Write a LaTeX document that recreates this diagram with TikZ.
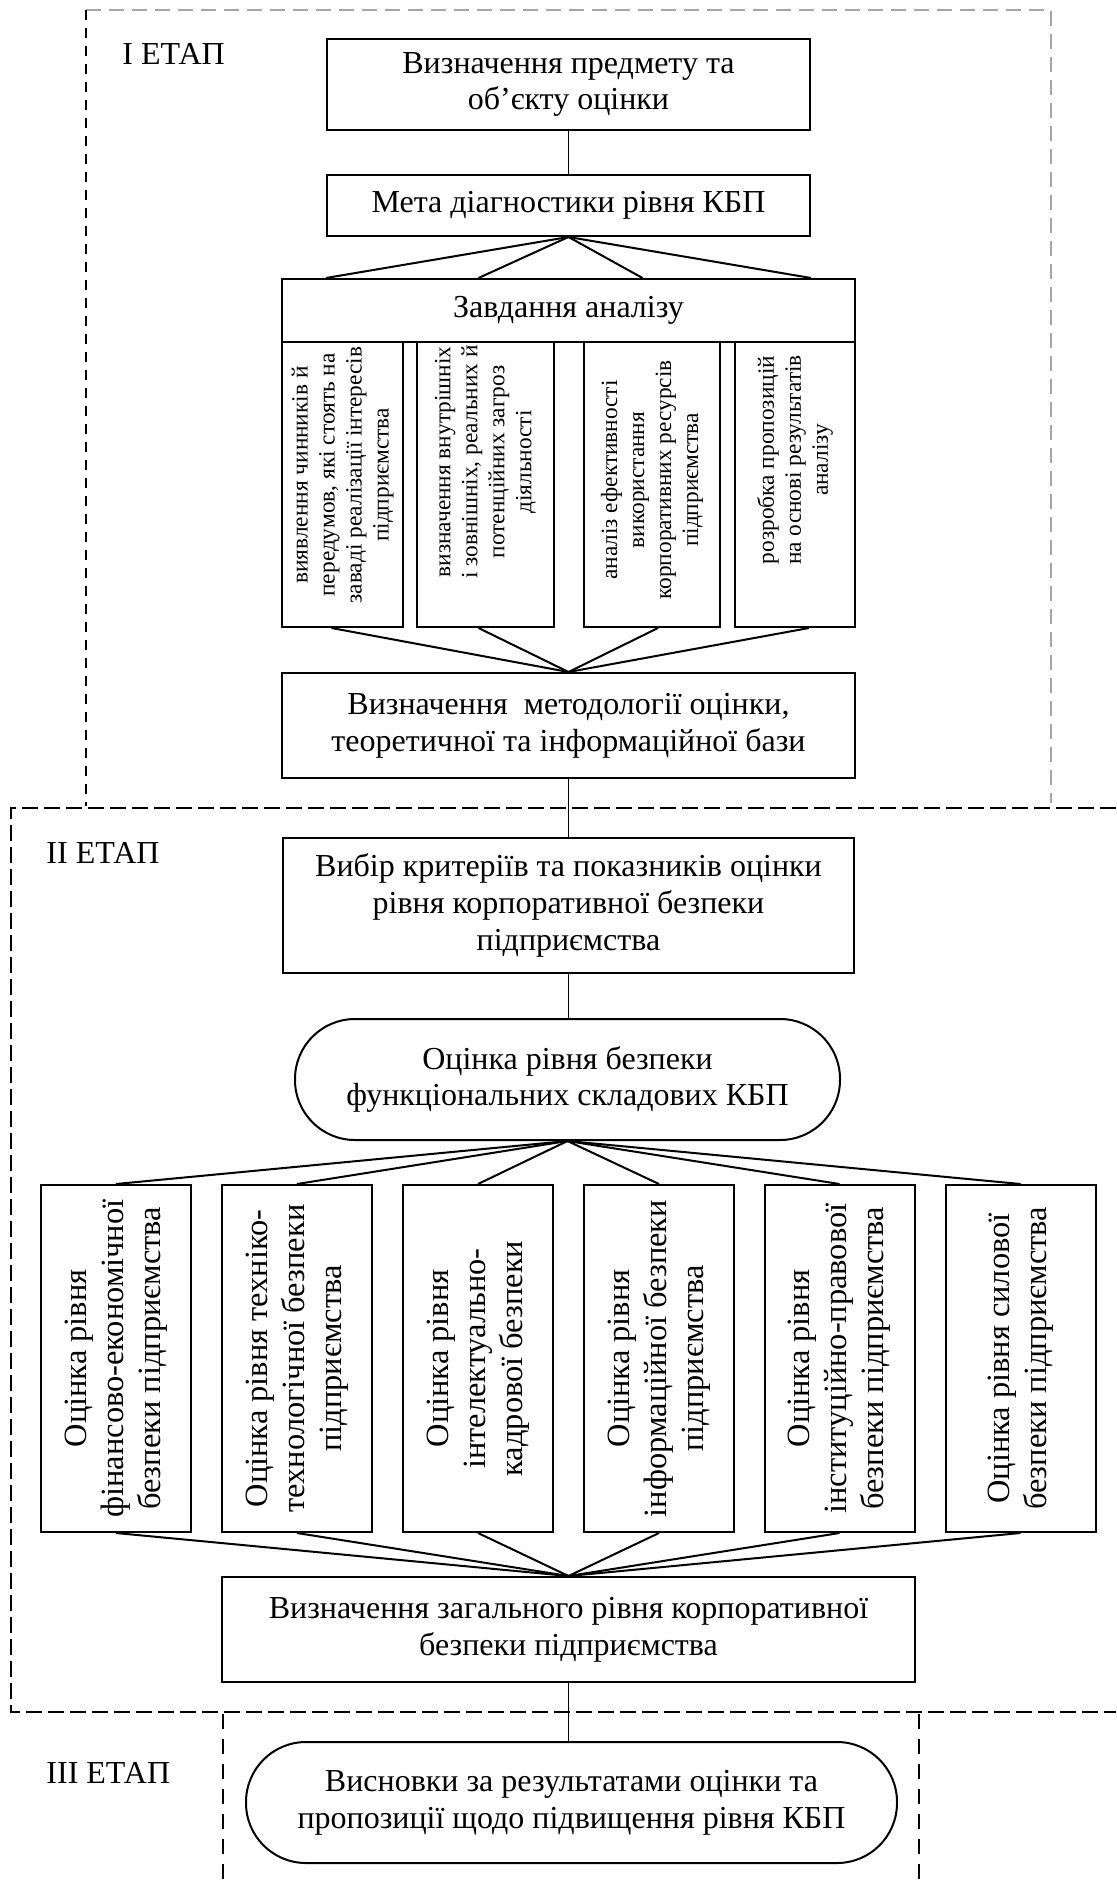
\documentclass[tikz,border=0pt]{standalone}
\usepackage{fontspec}
\setmainfont{Liberation Serif}
\usetikzlibrary{calc}
\newcommand\mainsz{\fontsize{14.4pt}{16.6pt}\selectfont}
\newcommand\colsz{\fontsize{10.5pt}{12.15pt}\selectfont}
\newcommand\sixsz{\fontsize{14.6pt}{16.6pt}\selectfont}
\tikzset{
  box/.style={draw, line width=0.9pt, inner sep=0pt, align=center, font=\mainsz},
  rbox/.style={box, rounded corners=27pt},
  fan/.style={line width=0.9pt},
  link/.style={line width=0.6pt},
  coltext/.style={rotate=90, align=center, font=\colsz, inner sep=0pt},
  sixtext/.style={rotate=90, align=center, font=\sixsz, inner sep=0pt},
  stagelbl/.style={anchor=base west, font=\mainsz, inner sep=0pt},
  frameA/.style={gray!70, line width=0.5pt, dash pattern=on 6.75pt off 3.6pt},
  frameAleft/.style={black, line width=0.8pt, dash pattern=on 4.5pt off 3.6pt},
  frameB/.style={black, line width=0.9pt, dash pattern=on 7.2pt off 2.7pt},
  frameC/.style={black, line width=0.5pt, dash pattern=on 6.75pt off 4.5pt},
}
\begin{document}
\begin{tikzpicture}[x=0.45pt,y=-0.45pt]
\useasboundingbox (0,0) rectangle (1116,1887);
% stage frames
\draw[frameA] (86,10) -- (1051,10) -- (1051,803);
\draw[frameAleft] (86,10) -- (86,806);
\draw[frameB] (1116,808) -- (11,808) -- (11,1712) -- (1116,1712);
\draw[frameC] (223,1714) -- (223,1887);
\draw[frameC] (919,1714) -- (919,1887);
% stage labels
\node[stagelbl] (l1) at (122,65) {I ЕТАП};
\node[stagelbl] (l2) at (46,863) {II ЕТАП};
\node[stagelbl] (l3) at (46,1783) {III ЕТАП};
% stage I
\node[box, minimum width=483*0.45pt, minimum height=91*0.45pt] (b1) at (568.5,84.5) {Визначення предмету та\\об’єкту оцінки};
\node[box, minimum width=483*0.45pt, minimum height=61*0.45pt] (b2) at (568.5,205.5) {Мета діагностики рівня КБП};
\node[box, minimum width=573*0.45pt, minimum height=63*0.45pt] (hdr) at (568.5,310.5) {Завдання аналізу};
\node[box, minimum width=121*0.45pt, minimum height=285*0.45pt] (c1) at (342.5,484.5) {};
\node[box, minimum width=137*0.45pt, minimum height=285*0.45pt] (c2) at (485.5,484.5) {};
\node[box, minimum width=136*0.45pt, minimum height=285*0.45pt] (c3) at (652,484.5) {};
\node[box, minimum width=120*0.45pt, minimum height=285*0.45pt] (c4) at (795,484.5) {};
\node[coltext] (c1t) at (342.5,475) {виявлення чинників й\\передумов, які стоять на\\заваді реалізації інтересів\\підприємства};
\node[coltext] (c2t) at (485.5,462) {визначення внутрішніх\\і зовнішніх, реальних й\\потенційних загроз\\діяльності};
\node[coltext] (c3t) at (652,480) {аналіз ефективності\\використання\\корпоративних ресурсів\\підприємства};
\node[coltext] (c4t) at (795,460) {розробка пропозицій\\на основі результатів\\аналізу};
\node[box, minimum width=573*0.45pt, minimum height=105*0.45pt] (meth) at (568.5,725.5) {Визначення~ методології оцінки,\\теоретичної та інформаційної бази};
% stage II
\node[box, minimum width=571*0.45pt, minimum height=135*0.45pt] (crit) at (568.5,905.5) {Вибір критеріїв та показників оцінки\\рівня корпоративної безпеки\\підприємства};
\node[rbox, minimum width=545*0.45pt, minimum height=121*0.45pt] (r1) at (567.5,1079.5) {Оцінка рівня безпеки\\функціональних складових КБП};
\foreach \n/\cx in {1/116,2/297,3/478,4/659,5/839.5,6/1020.5}{
  \node[box, minimum width=150*0.45pt, minimum height=347*0.45pt] (s\n) at (\cx,1358.5) {};
}
\node[sixtext] (s1t) at (s1) {Оцінка рівня\\фінансово-економічної\\безпеки підприємства};
\node[sixtext] (s2t) at (s2) {Оцінка рівня техніко-\\технологічної безпеки\\підприємства};
\node[sixtext] (s3t) at (s3) {Оцінка рівня\\інтелектуально-\\кадрової безпеки};
\node[sixtext] (s4t) at (s4) {Оцінка рівня\\інформаційної безпеки\\підприємства};
\node[sixtext] (s5t) at (s5) {Оцінка рівня\\інституційно-правової\\безпеки підприємства};
\node[sixtext] (s6t) at (s6) {Оцінка рівня силової\\безпеки підприємства};
\node[box, minimum width=693*0.45pt, minimum height=105*0.45pt] (tot) at (568.5,1629.5) {Визначення загального рівня корпоративної\\безпеки підприємства};
% stage III
\node[rbox, minimum width=651*0.45pt, minimum height=121*0.45pt] (r2) at (571.5,1802.5) {Висновки за результатами оцінки та\\пропозиції щодо підвищення рівня КБП};
% connectors
\draw[link] (b1.south) -- (b2.north);
\draw[fan] (b2.south) -- (b2.south west |- hdr.north);
\draw[fan] (b2.south) -- ($(hdr.north)+(-90,0)$);
\draw[fan] (b2.south) -- ($(hdr.north)+(74,0)$);
\draw[fan] (b2.south) -- (b2.south east |- hdr.north);
\draw[fan] ($(c1.south)+(-11,0)$) -- (meth.north);
\draw[fan] ($(c2.south)+(-7,0)$) -- (meth.north);
\draw[fan] ($(c3.south)+(6,0)$) -- (meth.north);
\draw[fan] ($(c4.south)+(14,0)$) -- (meth.north);
\draw[link] (meth.south) -- (crit.north);
\draw[link] (crit.south) -- (crit.south |- r1.north);
\foreach \n in {1,...,6}{
  \draw[fan] (r1.south) -- (s\n.north);
  \draw[fan] (s\n.south) -- (tot.north);
}
\draw[link] (tot.south) -- (tot.south |- r2.north);
\end{tikzpicture}
\end{document}
